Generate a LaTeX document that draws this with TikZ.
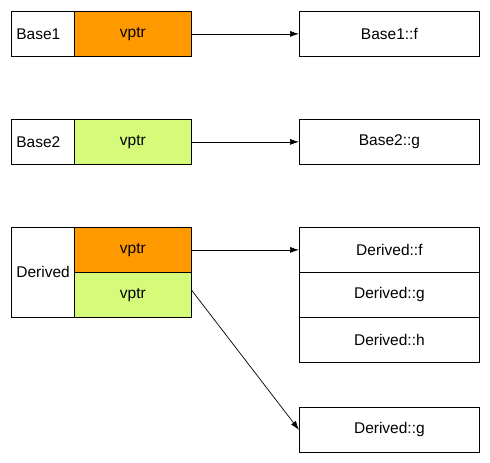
\documentclass[tikz,border=0pt]{standalone}
\usepackage{fontspec}
\setmainfont{Liberation Sans}
\usetikzlibrary{arrows.meta}
\definecolor{vorange}{RGB}{255,153,0}
\definecolor{vgreen}{RGB}{214,251,122}
\begin{document}
\begin{tikzpicture}[x=1pt,y=-1pt,>={Latex[length=9pt,width=6pt]},
        cell/.style={draw,line width=0.8pt,anchor=north west,inner sep=0pt,
            minimum height=45pt,font=\fontsize{15.5}{18}\selectfont},
        namecell/.style={cell,minimum width=63pt,inner xsep=5pt,text width=53pt,align=left},
        ptrcell/.style={cell,minimum width=117pt},
        funcell/.style={cell,minimum width=180pt}]
        \useasboundingbox (0,0) rectangle (490,463);
        % Base1
        \node[namecell] (b1) at (11,11) {Base1};
        \node[ptrcell,fill=vorange] (b1v) at (74,11) {vptr};
        \node[funcell] (b1f) at (299,11) {Base1::f};
        % Base2
        \node[namecell] (b2) at (11,119) {Base2};
        \node[ptrcell,fill=vgreen] (b2v) at (74,119) {vptr};
        \node[funcell] (b2g) at (299,119) {Base2::g};
        % Derived
        \node[namecell,minimum height=90pt] (d) at (11,227) {Derived};
        \node[ptrcell,fill=vorange] (dv1) at (74,227) {vptr};
        \node[ptrcell,fill=vgreen] (dv2) at (74,272) {vptr};
        \node[funcell] (df) at (299,227) {Derived::f};
        \node[funcell] (dg) at (299,272) {Derived::g};
        \node[funcell] (dh) at (299,317) {Derived::h};
        \node[funcell] (dg2) at (299,407) {Derived::g};
        \draw[line width=0.7pt,->] (b1v.east) -- (b1f.west);
        \draw[line width=0.7pt,->] (b2v.east) -- (b2g.west);
        \draw[line width=0.7pt,->] (dv1.east) -- (df.west);
        \draw[line width=0.7pt,->] ([yshift=4.5pt]dv2.east) -- (dg2.west);
\end{tikzpicture}
\end{document}
